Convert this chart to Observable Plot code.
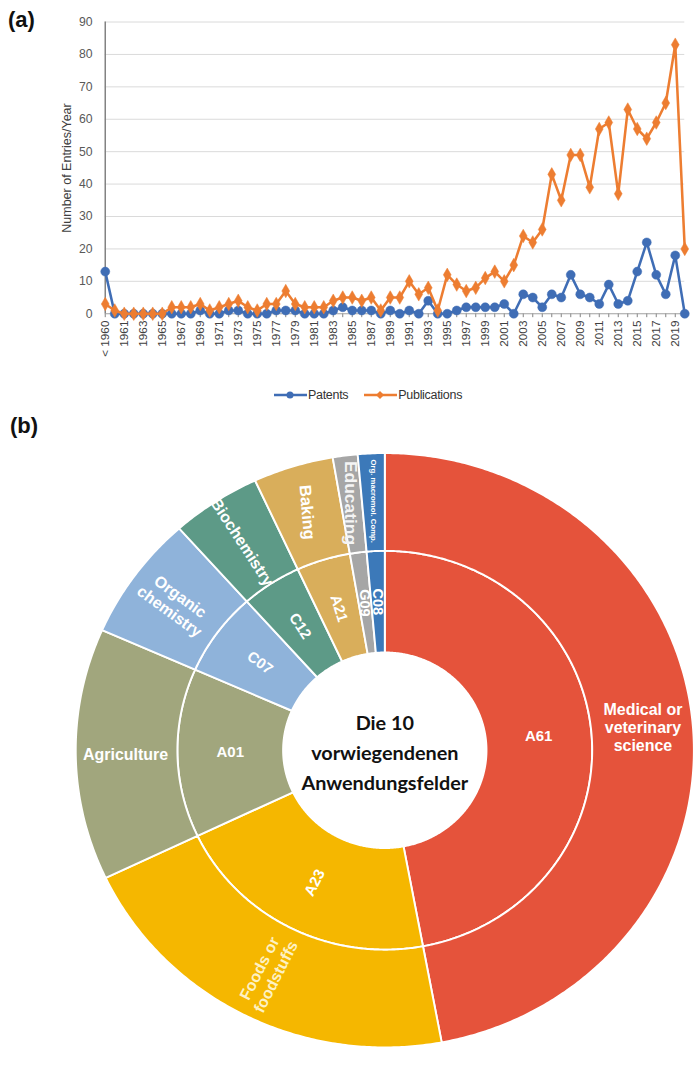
<!DOCTYPE html>
<html>
<head>
<meta charset="utf-8">
<script src="https://cdn.jsdelivr.net/npm/d3@7"></script>
<script src="https://cdn.jsdelivr.net/npm/@observablehq/plot@0.6"></script>
<style>
html, body { margin: 0; padding: 0; background: #fff; width: 697px; height: 1084px; overflow: hidden; }
#page { position: relative; width: 697px; height: 1084px; overflow: hidden; font-family: "Liberation Sans", Arial, sans-serif; }
.panel { position: absolute; font-weight: bold; font-size: 22px; color: #111; font-family: "Liberation Sans", Arial, sans-serif; }
#chartA { position: absolute; left: 0; top: 0; }
#chartB { position: absolute; left: 0; top: 440px; }
#ytitle { position: absolute; left: 67px; top: 168px; transform: translate(-50%, -50%) rotate(-90deg); font-size: 12.5px; color: #404040; white-space: nowrap; }
#legend { position: absolute; top: 388px; left: 274px; display: flex; align-items: center; font-size: 12.5px; letter-spacing: -0.3px; color: #333; }
#legend .item { display: flex; align-items: center; margin-right: 16px; }
#legend svg { display: block; margin-right: 1px; }
</style>
</head>
<body>
<div id="page">
  <div class="panel" style="left:8px; top:7px;">(a)</div>
  <div id="chartA"></div>
  <div id="ytitle">Number of Entries/Year</div>
  <div id="legend"></div>
  <div class="panel" style="left:10px; top:413px;">(b)</div>
  <div id="chartB"></div>
</div>
<script>
// ---------- Data: panel (a) ----------
const years = ["< 1960","1960","1961","1962","1963","1964","1965","1966","1967","1968","1969",
  "1970","1971","1972","1973","1974","1975","1976","1977","1978","1979",
  "1980","1981","1982","1983","1984","1985","1986","1987","1988","1989",
  "1990","1991","1992","1993","1994","1995","1996","1997","1998","1999",
  "2000","2001","2002","2003","2004","2005","2006","2007","2008","2009",
  "2010","2011","2012","2013","2014","2015","2016","2017","2018","2019","2020"];
const patents = [13,0,0,0,0,0,0,0,0,0,1,
  0,0,1,1,0,0,0,1,1,1,
  0,0,0,1,2,1,1,1,0,1,
  0,1,0,4,0,0,1,2,2,2,
  2,3,0,6,5,2,6,5,12,6,
  5,3,9,3,4,13,22,12,6,18,0];
const publications = [3,1,0,0,0,0,0,2,2,2,3,
  1,2,3,4,2,1,3,3,7,3,
  2,2,2,4,5,5,4,5,1,5,
  5,10,6,8,1,12,9,7,8,11,
  13,10,15,24,22,26,43,35,49,49,
  39,57,59,37,63,57,54,59,65,83,20];
const yTicks = [0,10,20,30,40,50,60,70,80,90];
const seriesNames = ["Patents", "Publications"];

// ---------- Data: panel (b) ----------
const codes = ["A61","A23","A01","C07","C12","A21","G09","C08"];
const fields = ["Medical or\nveterinary\nscience","Foods or\nfoodstuffs","Agriculture","Organic\nchemistry","Biochemistry","Baking","Educating","Org. macromol. Comp."];
const shares = [47.1, 20.9, 13.7, 6.8, 4.7, 4.2, 1.3, 1.4];
const centerTitle = "Die 10\nvorwiegendenen\nAnwendungsfelder";

// ---------- Styles ----------
const blue = "#3f6db5", orange = "#ed7d31";
const sliceColors = ["#e5533b","#f5b700","#a1a67d","#8fb3da","#5d9a87","#d9ae5b","#a6a6a6","#3c79b9"];

// ---------- Panel (a) ----------
const rows = years.map((c, i) => ({c, pat: patents[i], pub: publications[i]}));
const chartA = Plot.plot({
  width: 712, height: 380,
  marginLeft: 107, marginRight: 13, marginTop: 22, marginBottom: 60,
  style: {fontFamily: "Liberation Sans, Arial, sans-serif", fontSize: "12px", color: "#404040", background: "transparent"},
  x: {type: "point", domain: years, padding: 0, label: null},
  y: {domain: [0, 90], label: null},
  marks: [
    Plot.gridY(yTicks.slice(1), {stroke: "#d9d9d9", strokeOpacity: 1, strokeWidth: 1}),
    Plot.axisY({ticks: yTicks, tickSize: 0, tickPadding: 13, fontSize: 12.5, fill: "#595959", label: null}),
    Plot.axisX({ticks: years, tickSize: 4, tickFormat: () => "", stroke: "#7f7f7f", label: null}),
    Plot.axisX({ticks: years.filter((d, i) => i % 2 === 0), tickSize: 0, tickPadding: 7, tickRotate: -90, fontSize: 12, fill: "#404040", label: null}),
    Plot.ruleY([0], {stroke: "#a0a0a0", strokeWidth: 1.2}),
    Plot.ruleX([years[0]], {y1: 0, y2: 90, stroke: "#808080", strokeWidth: 1.5}),
    Plot.line(rows, {x: "c", y: "pat", stroke: blue, strokeWidth: 2.6}),
    Plot.dot(rows, {x: "c", y: "pat", r: 4.6, fill: blue, stroke: blue, strokeWidth: 0.5}),
    Plot.line(rows, {x: "c", y: "pub", stroke: orange, strokeWidth: 2.6}),
    Plot.dot(rows, {x: "c", y: "pub", symbol: "diamond", r: 4.2, fill: orange, stroke: orange, strokeWidth: 0.5})
  ]
});
chartA.style.overflow = "visible";
document.getElementById("chartA").append(chartA);

// Legend
const legend = document.getElementById("legend");
seriesNames.forEach((name, i) => {
  const item = document.createElement("div");
  item.className = "item";
  const col = i === 0 ? blue : orange;
  const marker = i === 0
    ? `<circle cx="16" cy="6" r="3.5" fill="${col}"/>`
    : `<path d="M16 2 L20 6 L16 10 L12 6 Z" fill="${col}"/>`;
  item.innerHTML = `<svg width="33" height="12"><line x1="0" y1="6" x2="33" y2="6" stroke="${col}" stroke-width="2.4"/>${marker}</svg><span>${name}</span>`;
  legend.append(item);
});

// ---------- Panel (b): sunburst ----------
const W2 = 720, H2 = 644, cx = 397, cy = 320, sx = 1.04;
const R0 = 101, Rm = 206, R1 = 307;
const pie = d3.pie().sort(null).value(d => d)(shares);
const deg = a => a * 180 / Math.PI;
function arcPoints(a0, a1, r0, r1) {
  const n = Math.max(4, Math.ceil(deg(a1 - a0) * 2));
  const pts = [];
  for (let k = 0; k <= n; k++) { const a = a0 + (a1 - a0) * k / n; pts.push({x: r1 * Math.sin(a), y: -r1 * Math.cos(a)}); }
  for (let k = n; k >= 0; k--) { const a = a0 + (a1 - a0) * k / n; pts.push({x: r0 * Math.sin(a), y: -r0 * Math.cos(a)}); }
  pts.push(pts[0]);
  return pts;
}
const sliceMarks = [];
pie.forEach((p, i) => {
  sliceMarks.push(Plot.line(arcPoints(p.startAngle, p.endAngle, R0, Rm), {x: "x", y: "y", fill: sliceColors[i], stroke: "white", strokeWidth: 2, curve: "linear"}));
  sliceMarks.push(Plot.line(arcPoints(p.startAngle, p.endAngle, Rm, R1), {x: "x", y: "y", fill: sliceColors[i], stroke: "white", strokeWidth: 2, curve: "linear"}));
});

// label layout (style config)
const innerMode = {A61: "h", A23: "r", A01: "h", C07: "r", C12: "r", A21: "r", G09: "v", C08: "v"};
const outerMode = {A61: "h", A23: "r", A01: "h", C07: "r", C12: "r", A21: 85, G09: "v", C08: "v"};
const outerSize = {A61: 16.5, A23: 16.5, A01: 16.5, C07: 16.5, C12: 16.5, A21: 17, G09: 18, C08: 8};
function rot(mode, a) {
  if (mode === "h") return 0;
  if (mode === "v") return 90;
  if (typeof mode === "number") return mode;
  const d = deg(a);
  return d > 180 ? d - 270 : d - 90;
}
const innerLabels = pie.map((p, i) => {
  const a = (p.startAngle + p.endAngle) / 2, r = (R0 + Rm) / 2;
  return {x: r * Math.sin(a), y: -r * Math.cos(a), text: codes[i], rotate: rot(innerMode[codes[i]], a),
    size: (codes[i] === "G09" || codes[i] === "C08") ? 15 : 15.5};
});
const outerLabels = pie.map((p, i) => {
  const a = (p.startAngle + p.endAngle) / 2, r = (Rm + R1) / 2 + 1;
  return {x: r * Math.sin(a), y: -r * Math.cos(a), text: fields[i], rotate: rot(outerMode[codes[i]], a),
    size: outerSize[codes[i]],
    fill: codes[i] === "A23" ? "#fdf1c4" : (codes[i] === "G09" ? "#f4f4f4" : "#ffffff")};
});

const chartB = Plot.plot({
  width: W2, height: H2, margin: 0,
  x: {domain: [-cx / sx, (W2 - cx) / sx], range: [0, W2], axis: null},
  y: {domain: [-cy, H2 - cy], range: [0, H2], axis: null},
  style: {background: "transparent"},
  marks: [
    ...sliceMarks,
    Plot.text(innerLabels, {x: "x", y: "y", text: "text", rotate: "rotate", fontSize: "size", fill: "white", fontWeight: "bold",
      fontFamily: "Liberation Sans, Arial, sans-serif"}),
    Plot.text(outerLabels, {x: "x", y: "y", text: "text", rotate: "rotate", fontSize: "size", fill: "fill", fontWeight: "bold",
      lineHeight: 1.15, fontFamily: "Liberation Sans, Arial, sans-serif"}),
    Plot.text([centerTitle], {x: 0, y: 0, text: d => d, fontSize: 20.5, fontWeight: "bold", fill: "#111",
      lineHeight: 1.5, fontFamily: "Lato, Open Sans, sans-serif"})
  ]
});
chartB.style.overflow = "visible";
document.getElementById("chartB").append(chartB);
</script>
</body>
</html>
